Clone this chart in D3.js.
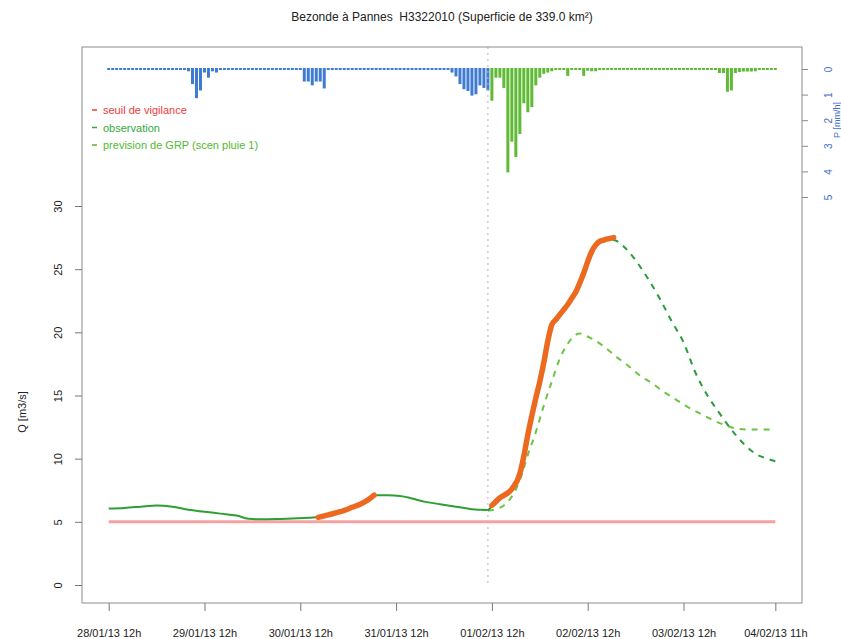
<!DOCTYPE html>
<html lang="fr">
<head>
<meta charset="UTF-8">
<title>Bezonde à Pannes H3322010</title>
<script src="https://d3js.org/d3.v7.min.js"></script>
<style>
  body { margin: 0; background: #fff; }
  svg { display: block; font-family: "Liberation Sans", Arial, sans-serif; }
  .title { white-space: pre; }
</style>
</head>
<body>
<div id="chart"></div>
<script>
// temps en heures depuis le 28/01/13 12h
const tickHours = [0, 24, 48, 72, 96, 120, 144, 167];
const tickLabels = ["28/01/13 12h", "29/01/13 12h", "30/01/13 12h", "31/01/13 12h",
                    "01/02/13 12h", "02/02/13 12h", "03/02/13 12h", "04/02/13 11h"];
const qTicks = [0, 5, 10, 15, 20, 25, 30];
const pTicks = [0, 1, 2, 3, 4, 5];
const seuilVigilance = 5;
const heurePrevision = 95;

// pluie horaire observée (h0 - h95)
const pluieObs = [
  0, 0, 0, 0, 0, 0, 0, 0, 0, 0, 0, 0, 0, 0, 0, 0, 0, 0, 0, 0, 0.05, 0.55, 1.1, 0.8,
  0.1, 0.3, 0.05, 0.1, 0, 0, 0, 0, 0, 0, 0, 0, 0, 0, 0, 0, 0, 0, 0, 0, 0, 0, 0, 0,
  0, 0.45, 0.45, 0.6, 0.45, 0.45, 0.72, 0, 0, 0, 0, 0, 0, 0, 0, 0, 0, 0, 0, 0, 0, 0, 0, 0,
  0, 0, 0, 0, 0, 0, 0, 0, 0, 0, 0, 0, 0, 0, 0.1, 0.25, 0.55, 0.75, 0.82, 1.0, 0.95, 0.6, 0.7, 0.8
];
// pluie horaire prévue, scénario 1 (h96 - h167)
const pluiePrev = [
  1.2, 0.3, 0.3, 0.7, 4.0, 2.8, 3.4, 2.5, 1.3, 1.65, 1.45, 0.6, 0.3, 0.15, 0.1, 0.05, 0, 0, 0, 0.23, 0, 0, 0, 0.23,
  0.03, 0.05, 0.05, 0, 0, 0, 0, 0, 0, 0, 0, 0, 0, 0, 0, 0, 0, 0, 0, 0, 0, 0, 0, 0,
  0, 0, 0, 0, 0, 0, 0, 0, 0, 0.12, 0.12, 0.85, 0.8, 0.12, 0.08, 0.06, 0.06, 0.06, 0.05, 0, 0, 0, 0, 0
];

// débit observé
const obsHours = [0, 4, 8, 12, 16, 20, 24, 28, 32, 35, 38, 42, 46, 50, 53, 56, 59, 62, 65, 67, 70, 73, 76, 79, 83, 87, 91, 95];
const obsQ = [6.05, 6.1, 6.2, 6.3, 6.2, 5.95, 5.8, 5.65, 5.5, 5.25, 5.2, 5.22, 5.27, 5.32, 5.4, 5.6, 5.9, 6.3, 6.7, 7.1, 7.1, 7.05, 6.85, 6.6, 6.4, 6.2, 6.0, 5.94];

// tracé orange (deux tronçons)
const orange1Hours = [52.5, 55, 58, 61, 63, 65, 66.5];
const orange1Q = [5.35, 5.55, 5.8, 6.15, 6.4, 6.75, 7.12];
const orange2Hours = [96, 98, 101, 103, 104, 105, 106, 107, 108, 109, 110, 111, 112, 113, 114, 115, 116, 117, 118, 119, 120, 121, 122, 123, 124, 125, 126.5];
const orange2Q = [6.3, 6.9, 7.6, 8.8, 10.2, 11.9, 13.4, 14.8, 16.1, 17.6, 19.3, 20.6, 21.0, 21.4, 21.8, 22.2, 22.7, 23.2, 23.9, 24.7, 25.6, 26.4, 26.9, 27.2, 27.3, 27.4, 27.5];

// prévisions GRP
const prev1Hours = [95, 98, 101, 103, 105, 107, 109, 111, 113, 115, 117, 119, 121, 123, 126.5, 129, 132, 135, 138, 141, 144, 147, 150, 153, 156, 159, 162, 165, 167];
const prev1Q = [5.9, 6.8, 7.5, 8.7, 11.8, 14.7, 17.5, 20.5, 21.3, 22.1, 23.1, 24.6, 26.3, 27.1, 27.3, 26.8, 25.7, 24.3, 22.7, 20.9, 19.2, 16.8, 15.0, 13.6, 12.3, 11.2, 10.4, 10.0, 9.8];
const prev2Hours = [95, 97, 99, 101, 103, 105, 107, 109, 111, 113, 115, 117, 118, 119, 121, 124, 127, 130, 133, 136, 139, 142, 145, 148, 151, 154, 157, 160, 167];
const prev2Q = [5.9, 6.0, 6.3, 7.0, 8.3, 10.3, 12.1, 14.2, 16.1, 17.9, 19.1, 19.8, 19.9, 19.8, 19.5, 18.9, 18.1, 17.4, 16.6, 16.0, 15.3, 14.7, 14.1, 13.6, 13.1, 12.7, 12.4, 12.3, 12.3];

const legendLabels = ["seuil de vigilance", "observation", "prevision de GRP (scen pluie 1)"];
const legendColors = ["#ef3b3b", "#35a840", "#52b833"];

document.addEventListener('DOMContentLoaded', function () {
  const width = 841, height = 639;
  const box = { left: 82, right: 802, top: 47, bottom: 603 };

  const svg = d3.select("#chart").append("svg")
    .attr("width", width)
    .attr("height", height);

  // échelles
  const lastHour = 167;
  const pad = lastHour * 0.04;
  const x = d3.scaleLinear().domain([-pad, lastHour + pad]).range([box.left, box.right]);
  const y = d3.scaleLinear().domain([0, 30]).range([585, 206]);
  const yP = d3.scaleLinear().domain([0, 5]).range([69, 197]);

  // titre
  svg.append("text")
    .attr("class", "title")
    .attr("x", (box.left + box.right) / 2)
    .attr("y", 21)
    .attr("text-anchor", "middle")
    .attr("font-size", "12px")
    .attr("fill", "#222")
    .text("Bezonde à Pannes  H3322010 (Superficie de 339.0 km²)");

  // pluie (barres horaires)
  const pluie = pluieObs.map((v, i) => ({ h: i, v: v, obs: true }))
    .concat(pluiePrev.map((v, i) => ({ h: pluieObs.length + i, v: v, obs: false })));

  svg.append("g").selectAll("rect")
    .data(pluie)
    .join("rect")
    .attr("x", d => x(d.h) - 1.5)
    .attr("width", 3)
    .attr("y", yP(0) - 1)
    .attr("height", d => yP(d.v) - yP(0) + 2)
    .attr("fill", d => d.obs ? "#3f7bd2" : "#5fba35");

  // seuil de vigilance
  svg.append("line")
    .attr("x1", x(0)).attr("x2", x(lastHour))
    .attr("y1", y(seuilVigilance)).attr("y2", y(seuilVigilance))
    .attr("stroke", "#f6a2a2")
    .attr("stroke-width", 3);

  // instant de prévision
  svg.append("line")
    .attr("x1", x(heurePrevision)).attr("x2", x(heurePrevision))
    .attr("y1", box.top).attr("y2", y(0))
    .attr("stroke", "#bfaebf")
    .attr("stroke-width", 1)
    .attr("stroke-dasharray", "2,4");

  const line = d3.line()
    .x(d => x(d[0]))
    .y(d => y(d[1]))
    .curve(d3.curveMonotoneX);

  const zip = (a, b) => a.map((v, i) => [v, b[i]]);

  // prévisions
  svg.append("path")
    .attr("d", line(zip(prev2Hours, prev2Q)))
    .attr("fill", "none")
    .attr("stroke", "#6cc443")
    .attr("stroke-width", 2)
    .attr("stroke-dasharray", "6,6");

  svg.append("path")
    .attr("d", line(zip(prev1Hours, prev1Q)))
    .attr("fill", "none")
    .attr("stroke", "#2a9c3c")
    .attr("stroke-width", 2)
    .attr("stroke-dasharray", "6,6");

  // observation
  svg.append("path")
    .attr("d", line(zip(obsHours, obsQ)))
    .attr("fill", "none")
    .attr("stroke", "#2f9f35")
    .attr("stroke-width", 2);

  // tronçons orange
  [zip(orange1Hours, orange1Q), zip(orange2Hours, orange2Q)].forEach(seg => {
    svg.append("path")
      .attr("d", line(seg))
      .attr("fill", "none")
      .attr("stroke", "#ec6a20")
      .attr("stroke-width", 5.5)
      .attr("stroke-linecap", "round")
      .attr("stroke-linejoin", "round");
  });

  // cadre
  svg.append("rect")
    .attr("x", box.left).attr("y", box.top)
    .attr("width", box.right - box.left).attr("height", box.bottom - box.top)
    .attr("fill", "none")
    .attr("stroke", "#8c8c8c")
    .attr("stroke-width", 1);

  // axe des débits (gauche)
  const axeQ = svg.append("g")
    .attr("transform", `translate(${box.left},0)`)
    .call(d3.axisLeft(y).tickValues(qTicks).tickSize(7));
  axeQ.select(".domain").remove();
  axeQ.selectAll("line").attr("stroke", "#777");
  axeQ.selectAll("text")
    .attr("transform", "rotate(-90)")
    .attr("x", 0).attr("y", -20).attr("dy", 0)
    .attr("text-anchor", "middle")
    .attr("font-size", "11px")
    .attr("font-family", null)
    .attr("fill", "#222");

  svg.append("text")
    .attr("transform", "translate(26,412) rotate(-90)")
    .attr("text-anchor", "middle")
    .attr("font-size", "11px")
    .attr("fill", "#222")
    .text("Q [m3/s]");

  // axe du temps
  const axeT = svg.append("g")
    .attr("transform", `translate(0,${box.bottom})`)
    .call(d3.axisBottom(x).tickValues(tickHours).tickFormat((d, i) => tickLabels[i]).tickSize(8));
  axeT.select(".domain").remove();
  axeT.selectAll("line").attr("stroke", "#777");
  axeT.selectAll("text")
    .attr("y", 26)
    .attr("font-size", "11px")
    .attr("font-family", null)
    .attr("fill", "#222");

  // axe des pluies (droite)
  const axeP = svg.append("g")
    .attr("transform", `translate(${box.right},0)`)
    .call(d3.axisRight(yP).tickValues(pTicks).tickFormat(d3.format("d")).tickSize(6));
  axeP.select(".domain").remove();
  axeP.selectAll("line").attr("stroke", "#888");
  axeP.selectAll("text")
    .attr("transform", "rotate(-90)")
    .attr("x", 0).attr("y", 30).attr("dy", 0)
    .attr("text-anchor", "middle")
    .attr("font-size", "10px")
    .attr("font-family", null)
    .attr("fill", "#3f6fc8");

  svg.append("text")
    .attr("transform", "translate(840,120) rotate(-90)")
    .attr("text-anchor", "middle")
    .attr("font-size", "9px")
    .attr("fill", "#3f6fc8")
    .text("P [mm/h]");

  // légende
  const leg = svg.append("g").selectAll("g")
    .data(legendLabels)
    .join("g")
    .attr("transform", (d, i) => `translate(92,${110 + i * 17.5})`);
  leg.append("line")
    .attr("x1", 0).attr("x2", 5)
    .attr("stroke", (d, i) => legendColors[i])
    .attr("stroke-width", 1.5);
  leg.append("text")
    .attr("x", 11).attr("y", 4)
    .attr("font-size", "11px")
    .attr("fill", (d, i) => legendColors[i])
    .text(d => d);
});
</script>
</body>
</html>
